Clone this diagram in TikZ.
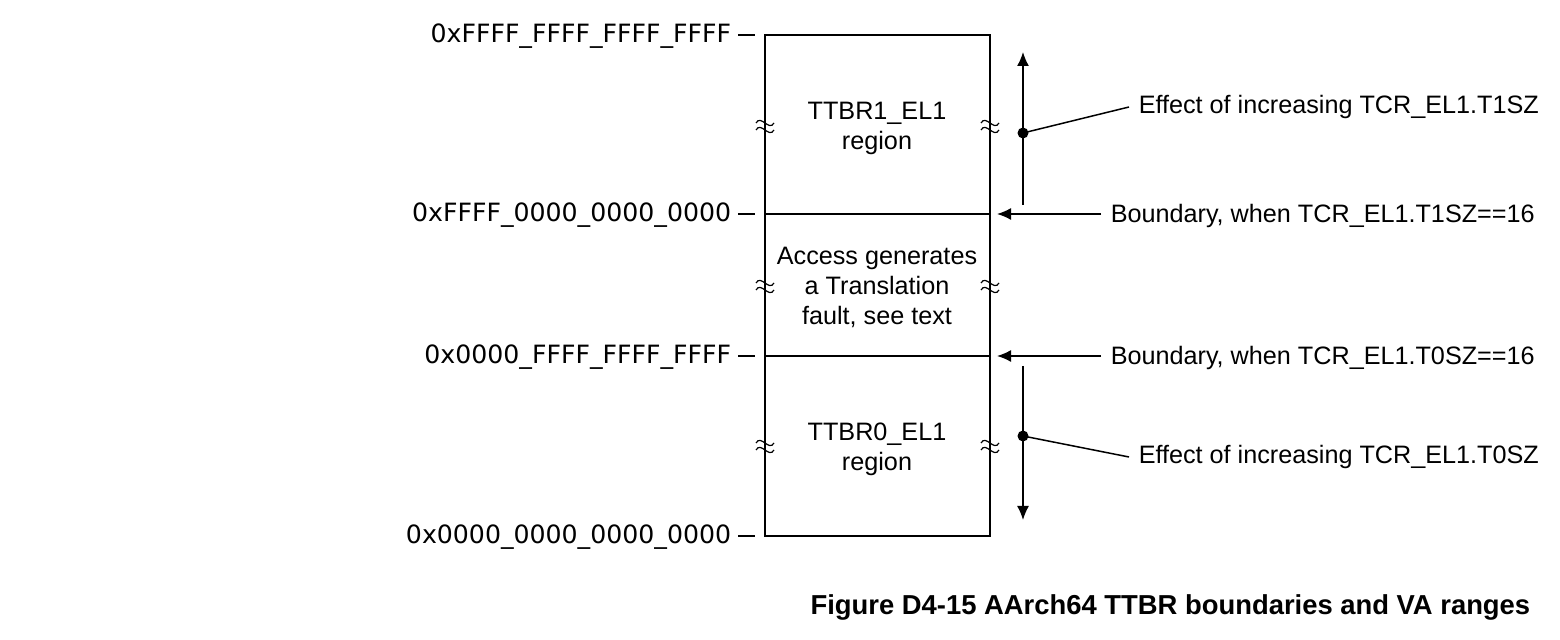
\documentclass[tikz,border=0pt]{standalone}
\usepackage{fontspec}
\setmainfont{Liberation Sans}
\newfontfamily\addrfont{DejaVu Sans}
\usetikzlibrary{positioning,arrows.meta}

\begin{document}
\begin{tikzpicture}[x=0.5pt,y=-0.5pt,line width=0.75pt,
    lbl/.style={font=\fontsize{12.6}{15}\selectfont, inner sep=3pt},
    addr/.style={font=\addrfont\fontsize{12.6}{15}\selectfont, inner sep=3pt, anchor=east},
    tip/.style={-{Latex[length=7pt,width=6pt]}},
    dot/.style={circle, fill, inner sep=0pt, minimum size=5.5pt}]
    \useasboundingbox (0,0) rectangle (1560,640);

    % memory map
    \draw (765,35) rectangle (990,536);
    \draw (765,214) -- (990,214);
    \draw (765,356) -- (990,356);
    \foreach \y/\txt [count=\i] in {35/0xFFFF\_FFFF\_FFFF\_FFFF, 214/0xFFFF\_0000\_0000\_0000,
        356/0x0000\_FFFF\_FFFF\_FFFF, 536/0x0000\_0000\_0000\_0000} {
        \node[addr] (addr\i) at (738,\y+1) {\txt};
        \draw (738,\y) -- (755,\y);
    }
    % break marks
    \foreach \x in {765,990}
        \foreach \y in {126,286,446} {
            \draw[line width=0.6pt] (\x-9,\y-3) .. controls (\x-4,\y-12) and (\x+4,\y+6) .. (\x+9,\y-3);
            \draw[line width=0.6pt] (\x-9,\y+4) .. controls (\x-4,\y-5) and (\x+4,\y+13) .. (\x+9,\y+4);
        }

    \node[lbl, align=center] (ttbr1) at (877,128) {TTBR1\_EL1\\region};
    \node[lbl, align=center] (fault) at (877,287) {Access generates\\a Translation\\fault, see text};
    \node[lbl, align=center] (ttbr0) at (877,449) {TTBR0\_EL1\\region};

    % boundaries
    \node[lbl, anchor=west, inner sep=4.5pt] (bnd1) at (1101,216) {Boundary, when TCR\_EL1.T1SZ==16};
    \node[lbl, anchor=west, inner sep=4.5pt] (bnd0) at (1101,358) {Boundary, when TCR\_EL1.T0SZ==16};
    \coordinate (edge1) at (997,214);
    \coordinate (edge0) at (997,356);
    \draw[tip] (bnd1.west |- edge1) -- (edge1);
    \draw[tip] (bnd0.west |- edge0) -- (edge0);

    % effect of increasing TxSZ
    \coordinate (t1lo) at (1023,205);
    \coordinate (t1hi) at (1023,52);
    \coordinate (t0hi) at (1023,366);
    \coordinate (t0lo) at (1023,520);
    \draw[tip] (t1lo) -- (t1hi);
    \draw[tip] (t0hi) -- (t0lo);
    \node[dot] (dot1) at (1023,133) {};
    \node[dot] (dot0) at (1023,436) {};
    \node[lbl, anchor=west, inner sep=4.5pt] (eff1) at (1129,107) {Effect of increasing TCR\_EL1.T1SZ};
    \node[lbl, anchor=west, inner sep=4.5pt] (eff0) at (1129,457) {Effect of increasing TCR\_EL1.T0SZ};
    \draw (dot1.center) -- (eff1.west);
    \draw (dot0.center) -- (eff0.west);

    \node[anchor=east, inner sep=3pt, font=\fontsize{13.7}{16}\selectfont\bfseries] (caption) at (1537,607)
        {Figure D4-15 AArch64 TTBR boundaries and VA ranges};
\end{tikzpicture}
\end{document}
